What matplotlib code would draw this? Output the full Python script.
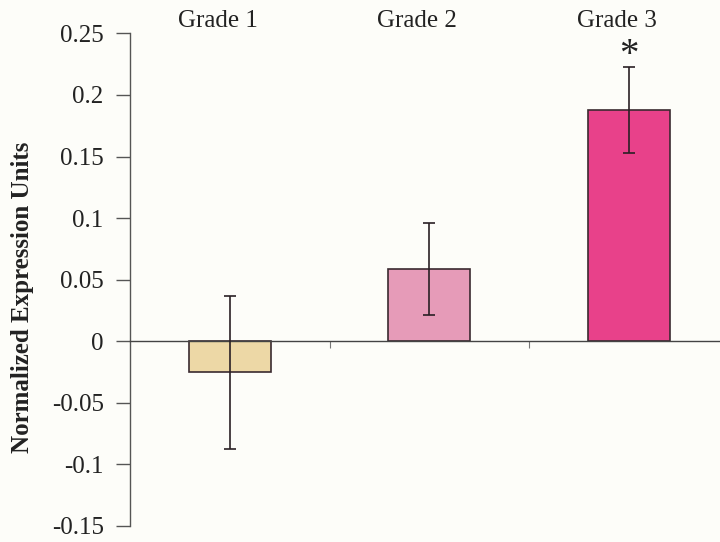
import matplotlib.pyplot as plt
from matplotlib.transforms import blended_transform_factory

plt.rcParams["font.family"] = ["Liberation Serif", "DejaVu Serif"]

grades = ["Grade 1", "Grade 2", "Grade 3"]
means = [-0.0255, 0.0585, 0.188]
errors = [0.062, 0.0375, 0.035]
bar_colors = ["#EDD8A6", "#E69BB8", "#E8418A"]
significant = [False, False, True]

yticks = [-0.15, -0.1, -0.05, 0, 0.05, 0.1, 0.15, 0.2, 0.25]
ytick_labels = ["-0.15", "-0.1", "-0.05", "0", "0.05", "0.1", "0.15", "0.2", "0.25"]

bg = "#FDFDF9"
fig = plt.figure(figsize=(7.2, 5.42), dpi=100, facecolor=bg)
ax = fig.add_axes([0.1806, 0.0304, 0.8194, 0.9078], facecolor=bg)

x = list(range(len(grades)))
ax.bar(x, means, width=0.41, color=bar_colors, edgecolor="#3a2a30",
       linewidth=1.2, zorder=2)
ax.errorbar(x, means, yerr=errors, fmt="none", ecolor="#2a2025",
            elinewidth=1.2, capsize=4.5, capthick=1.2, zorder=3)

# significance marker above the error bar
for xi, m, e, sig in zip(x, means, errors, significant):
    if sig:
        ax.text(xi, m + e + 0.0095, "*", ha="center", va="center",
                fontsize=28, color="#222222")

ax.set_xlim(-0.5, 2.457)
ax.set_ylim(-0.15, 0.25)
ax.set_yticks(yticks)
ax.set_yticklabels(ytick_labels, fontsize=18, color="#222222")
ax.tick_params(axis="y", direction="out", length=10, width=1,
               color="#555555", pad=9)

# category dividers as small ticks on the zero line
ax.set_xticks([0.5, 1.5])
ax.set_xticklabels([])
ax.tick_params(axis="x", direction="out", length=5, width=0.8,
               color="#777777")

ax.spines["top"].set_visible(False)
ax.spines["right"].set_visible(False)
ax.spines["bottom"].set_position(("data", 0))
ax.spines["bottom"].set_color("#444444")
ax.spines["left"].set_color("#555555")
ax.spines["bottom"].set_linewidth(1.0)
ax.spines["left"].set_linewidth(1.0)

# grade names across the top
trans = blended_transform_factory(ax.transData, fig.transFigure)
for xi, name in zip(x, grades):
    ax.text(xi - 0.06, 1 - 21 / 542, name, transform=trans, ha="center",
            va="center", fontsize=18, color="#222222", clip_on=False)

fig.text(23 / 720, 1 - 297 / 542, "Normalized Expression Units", rotation=90,
         ha="center", va="center", fontsize=18, fontweight="bold",
         color="#222222")

fig.savefig("out.png", dpi=100, facecolor=bg)
